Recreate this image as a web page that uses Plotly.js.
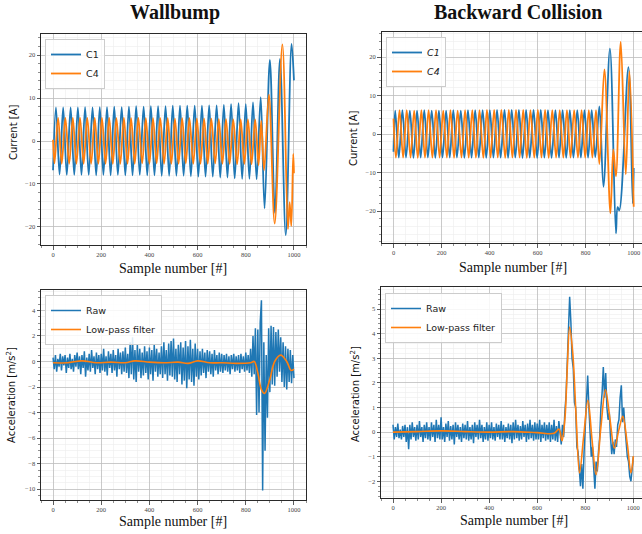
<!DOCTYPE html>
<html>
<head>
<meta charset="utf-8">
<script src="https://cdn.plot.ly/plotly-3.0.1.min.js"></script>
<style>
  html, body { margin: 0; padding: 0; background: #ffffff; }
  #chart { width: 642px; height: 534px; }
</style>
</head>
<body>
<div id="chart"></div>
<script>
// ---------- DATA ----------
// Wallbump, current: turning points of each phase (sample number, amps)
const wallC1X = [0,12,27,42,57,73,88,103,118,133,148,164,179,194,209,224,239,254,269,285,300,315,330,345,360,376,391,406,421,436,451,467,482,497,512,527,542,557,572,588,603,618,633,648,663,679,694,709,724,739,754,770,785,800,815,830,845,862,878,900,921,942,966,990,1000];
const wallC1Y = [-6.8,7.8,-7.8,7.8,-7.9,7.8,-7.9,7.8,-7.9,7.9,-7.9,7.8,-8.0,7.9,-7.9,7.9,-8.0,8.0,-7.9,7.9,-8.0,8.0,-8.0,8.1,-7.9,8.0,-8.0,8.1,-8.0,8.1,-8.1,8.1,-8.1,8.2,-8.1,8.2,-8.1,8.2,-8.2,8.2,-8.3,8.2,-8.3,8.3,-8.3,8.3,-8.5,8.4,-8.5,8.6,-8.7,8.8,-8.8,8.6,-8.8,9.0,-8.9,10.2,-15.7,18.9,-16.7,19.1,-21.9,22.6,14.1];
const wallC4X = [0,6,21,36,51,67,82,97,112,127,142,158,173,188,203,218,233,248,263,279,294,309,324,339,354,370,385,400,415,430,445,461,476,491,506,521,536,551,566,582,597,612,627,642,657,673,688,703,718,733,748,764,779,794,809,824,839,853,864,876,896,920,952,975,982,989,997,1000];
const wallC4Y = [0.3,-5.2,5.4,-5.3,5.4,-5.3,5.4,-5.3,5.4,-5.3,5.4,-5.3,5.4,-5.3,5.4,-5.3,5.4,-5.3,5.3,-5.3,5.4,-5.3,5.3,-5.3,5.4,-5.2,5.3,-5.3,5.3,-5.2,5.3,-5.3,5.3,-5.3,5.2,-5.3,5.3,-5.2,5.3,-5.3,5.2,-5.3,5.2,-5.3,5.2,-5.2,5.1,-5.3,5.1,-5.3,5.0,-5.4,5.0,-5.3,5.0,-5.4,5.0,-5.6,4.7,-6.8,10.8,-19.2,22.5,-20.5,-14.2,-19.8,-3.0,-7.5];

// Backward Collision, current
const backC1X = [0,7,22,37,52,68,83,98,113,128,143,159,174,189,204,219,234,249,264,280,295,310,325,340,355,371,386,401,416,431,446,462,477,492,507,522,537,552,567,583,598,613,628,643,658,674,689,704,719,734,749,765,780,795,810,825,840,857,874,901,926,933,940,978,996,1000];
const backC1Y = [-4.6,6.1,-6.1,6.2,-6.1,6.1,-6.2,6.1,-6.1,6.2,-6.1,6.1,-6.2,6.1,-6.1,6.1,-6.1,6.2,-6.1,6.1,-6.2,6.2,-6.1,6.2,-6.1,6.2,-6.2,6.2,-6.1,6.3,-6.1,6.3,-6.2,6.3,-6.1,6.3,-6.2,6.3,-6.1,6.3,-6.2,6.3,-6.1,6.2,-6.2,6.2,-6.1,6.2,-6.2,6.2,-6.1,6.2,-6.1,6.2,-6.1,6.2,-6.0,7.2,-13.7,22.2,-25.8,-19.0,-19.8,17.4,-18.0,-8.8];
const backC4X = [0,10,25,40,55,71,86,101,116,131,146,162,177,192,207,222,237,252,267,283,298,313,328,343,358,374,389,404,419,434,449,465,480,495,510,525,540,555,570,586,601,616,631,646,661,677,692,707,722,737,752,768,783,798,813,828,843,857,878,903,915,926,946,967,982,1000];
const backC4Y = [4.0,-6.1,6.2,-6.1,6.2,-6.1,6.1,-6.2,6.2,-6.1,6.2,-6.1,6.2,-6.1,6.1,-6.1,6.2,-6.2,6.1,-6.1,6.2,-6.1,6.2,-6.1,6.2,-6.2,6.3,-6.1,6.3,-6.1,6.3,-6.2,6.3,-6.1,6.3,-6.1,6.3,-6.2,6.2,-6.1,6.3,-6.1,6.3,-6.2,6.2,-6.1,6.2,-6.1,6.2,-6.1,6.2,-6.1,6.2,-6.1,6.2,-6.1,6.2,-7.8,16.8,-20.6,-4.0,-11.0,23.9,-10.5,16.3,-18.9];

// Acceleration, raw samples every 5 samples (0..1000)
const sampleStep = 5;
const wallRaw = [
 0.3,-0.6,0.5,-0.8,0.2,-0.4,0.6,-0.7,0.4,-0.3,
 0.5,-0.9,0.3,-0.5,0.6,-0.6,0.2,-0.8,0.5,-0.4,
 0.7,-0.6,0.4,-1.0,0.5,-0.5,0.8,-1.2,0.3,-0.7,
 0.6,-0.8,0.9,-0.5,0.4,-1.0,0.7,-0.6,0.5,-0.9,
 0.6,-0.7,1.0,-0.8,0.4,-1.1,0.8,-0.5,0.6,-0.9,
 0.9,-0.7,0.5,-1.2,1.0,-0.6,0.7,-1.0,0.8,-0.8,
 1.1,-0.9,0.6,-1.3,1.5,-1.0,1.9,-1.4,0.9,-1.6,
 1.3,-0.8,1.0,-1.3,0.7,-1.1,1.2,-0.9,0.8,-1.4,
 1.1,-1.0,0.9,-1.5,1.3,-0.8,1.0,-1.2,0.7,-1.0,
 1.2,-1.3,1.5,-1.0,0.9,-1.5,1.4,-1.1,1.6,-1.2,
 1.8,-1.4,1.0,-1.6,1.3,-1.0,1.5,-1.8,1.1,-1.5,
 1.6,-2.1,1.2,-1.4,1.7,-1.6,1.0,-1.9,1.4,-1.2,
 1.0,-1.4,0.8,-1.1,1.0,-0.9,0.7,-1.3,0.9,-0.8,
 0.8,-1.0,0.6,-1.2,0.9,-0.7,0.5,-1.0,0.7,-0.8,
 0.6,-0.9,0.5,-0.7,0.6,-0.8,0.4,-1.0,0.5,-0.6,
 0.6,-0.8,0.4,-0.7,0.5,-0.9,0.6,-0.6,0.4,-0.8,
 0.7,-0.7,0.5,-0.9,1.0,-1.2,2.0,-1.0,2.6,-4.2,
 2.5,-4.0,3.1,4.8,-10.1,1.5,-7.0,0.5,-4.4,2.6,
 -2.4,2.8,-1.8,2.7,-1.9,2.3,-1.2,2.5,-0.8,1.9,
 -1.6,1.5,-2.0,1.2,-2.2,1.0,-1.6,0.9,-1.7,0.5,
 -1.3
];
const backRaw = [
 0.3,-0.3,0.2,-0.2,0.35,-0.25,0.1,-0.3,0.25,-0.2,
 0.3,-0.4,0.2,-0.7,0.3,-0.3,0.4,-0.2,0.2,-0.35,
 0.3,-0.3,0.45,-0.2,0.2,-0.4,0.3,-0.25,0.4,-0.3,
 0.2,-0.35,0.4,-0.2,0.3,-0.4,0.5,-0.25,0.3,-0.3,
 0.6,-0.3,0.2,-0.4,0.35,-0.2,0.45,-0.35,0.25,-0.3,
 0.3,-0.5,0.4,-0.2,0.3,-0.3,0.2,-0.4,0.35,-0.25,
 0.3,-0.3,0.45,-0.35,0.2,-0.3,0.3,-0.45,0.4,-0.2,
 0.3,-0.3,0.5,-0.25,0.3,-0.4,0.2,-0.3,0.4,-0.35,
 0.3,-0.25,0.4,-0.3,0.2,-0.35,0.35,-0.2,0.3,-0.3,
 0.45,-0.3,0.3,-0.4,0.2,-0.25,0.35,-0.3,0.3,-0.45,
 0.4,-0.3,0.5,-0.25,0.3,-0.35,0.25,-0.3,0.45,-0.2,
 0.3,-0.4,0.35,-0.3,0.5,-0.25,0.3,-0.35,0.4,-0.3,
 0.35,-0.3,0.5,-0.4,0.3,-0.25,0.4,-0.35,0.3,-0.3,
 0.4,-0.4,0.3,-0.3,0.5,-0.35,0.25,-0.4,0.45,-0.2,
 -0.5,0.3,-0.2,0.8,1.5,2.8,4.0,5.5,4.5,3.0,
 2.6,1.2,1.0,-0.6,-0.8,-1.4,-2.2,-1.3,-2.3,-0.8,
 0.2,1.2,2.3,1.0,0.2,-1.0,-0.6,-1.8,-2.3,-1.2,
 -1.6,-0.8,-0.2,1.0,1.6,2.65,1.4,2.4,1.0,0.5,
 0.8,-0.2,-0.9,-0.4,-0.9,-0.3,-0.6,0.3,0.5,1.4,
 1.9,0.4,1.0,0.2,-0.5,-1.0,-1.2,-1.8,-2.0,-1.4,
 -1.0
];
// Low-pass filtered acceleration (turning points)
const wallLpX = [0,60,120,180,240,300,340,400,460,520,560,600,650,700,760,820,835,850,865,878,900,920,945,970,988,1000];
const wallLpY = [-0.1,-0.1,0.05,-0.1,-0.05,-0.1,0.05,-0.05,-0.1,-0.05,-0.15,0.05,-0.1,-0.1,-0.15,-0.1,0.0,-0.9,-2.2,-2.5,-1.4,0.0,0.5,0.0,-0.7,-0.6];
const backLpX = [0,100,200,300,400,500,600,670,690,703,715,725,735,748,762,776,793,811,828,845,865,884,903,921,940,956,975,990,1000];
const backLpY = [0,0.02,0.05,0.02,0.0,0.02,-0.02,-0.05,0.12,-0.35,0.5,2.6,4.27,3.2,0.6,-1.66,-0.2,1.29,-0.3,-1.73,0.2,1.72,0.5,-0.65,0.1,0.64,-0.5,-1.66,-0.98];

const panelTitles = ["Wallbump", "Backward Collision"];
const xLabel = "Sample number [#]";
const yLabelCurrent = "Current [A]";
const yLabelAccel = "Acceleration [m/s<sup>2</sup>]";

// ---------- STYLE ----------
const BLUE = "#1f77b4", ORANGE = "#ff7f0e";
const W = 642, H = 534;
const px = v => v / W;          // horizontal pixel -> paper
const py = v => 1 - v / H;      // vertical pixel (from top) -> paper

function axis(domain, range, dtick, minorDtick, mirror, anchor) {
  return {
    domain: domain, range: range, anchor: anchor,
    tick0: 0, dtick: dtick,
    ticks: "outside", ticklen: 3.5, tickwidth: 0.8, tickcolor: "#333",
    showline: true, linecolor: "#2a2a2a", linewidth: 1, mirror: mirror,
    showgrid: true, gridcolor: "#bdbdbd", gridwidth: 0.8,
    zeroline: false, fixedrange: true,
    tickfont: { family: "Liberation Serif", size: 6.5, color: "#444" },
    minor: { dtick: minorDtick, tick0: 0, ticks: "outside", ticklen: 2, tickwidth: 0.6,
             tickcolor: "#444", showgrid: true, gridcolor: "#ececec", gridwidth: 0.6 }
  };
}

const traces = [
  { x: wallC1X, y: wallC1Y, xaxis: "x", yaxis: "y", name: "C1", legend: "legend",
    mode: "lines", line: { color: BLUE, width: 1.8, shape: "spline" } },
  { x: wallC4X, y: wallC4Y, xaxis: "x", yaxis: "y", name: "C4", legend: "legend",
    mode: "lines", line: { color: ORANGE, width: 1.8, shape: "spline" } },
  { x: backC1X, y: backC1Y, xaxis: "x2", yaxis: "y2", name: "<i>C1</i>", legend: "legend2",
    mode: "lines", line: { color: BLUE, width: 1.8, shape: "spline" } },
  { x: backC4X, y: backC4Y, xaxis: "x2", yaxis: "y2", name: "<i>C4</i>", legend: "legend2",
    mode: "lines", line: { color: ORANGE, width: 1.8, shape: "spline" } },
  { y: wallRaw, x0: 0, dx: sampleStep, xaxis: "x3", yaxis: "y3", name: "Raw", legend: "legend3",
    mode: "lines", line: { color: BLUE, width: 1.5 } },
  { x: wallLpX, y: wallLpY, xaxis: "x3", yaxis: "y3", name: "Low-pass filter", legend: "legend3",
    mode: "lines", line: { color: ORANGE, width: 1.6, shape: "spline" } },
  { y: backRaw, x0: 0, dx: sampleStep, xaxis: "x4", yaxis: "y4", name: "Raw", legend: "legend4",
    mode: "lines", line: { color: BLUE, width: 1.5 } },
  { x: backLpX, y: backLpY, xaxis: "x4", yaxis: "y4", name: "Low-pass filter", legend: "legend4",
    mode: "lines", line: { color: ORANGE, width: 1.6, shape: "spline" } }
];

function legendAt(xp, yp) {
  return { x: px(xp), y: py(yp), xanchor: "left", yanchor: "top",
           bgcolor: "rgba(255,255,255,0.85)", bordercolor: "#cccccc", borderwidth: 1,
           font: { family: "DejaVu Sans", size: 9.5, color: "#222" },
           itemwidth: 30, tracegroupgap: 0 };
}

function ann(text, xp, yp, size, family, bold, angle) {
  return { text: bold ? "<b>" + text + "</b>" : text, x: px(xp), y: py(yp),
           xref: "paper", yref: "paper", xanchor: "center", yanchor: "middle",
           showarrow: false, textangle: angle || 0,
           font: { family: family, size: size, color: "#111" } };
}

const layout = {
  width: W, height: H,
  margin: { l: 0, r: 0, t: 0, b: 0 },
  paper_bgcolor: "#ffffff", plot_bgcolor: "#ffffff",
  showlegend: true,
  xaxis:  axis([px(41), px(306)], [-50, 1050], 200, 50, true, "y"),
  yaxis:  axis([py(245), py(34)], [-24.2, 24.9], 10, 2, true, "x"),
  xaxis2: axis([px(381.5), 1], [-50, 1034.5], 200, 50, true, "y2"),
  yaxis2: axis([py(243), py(32)], [-28.3, 26.5], 10, 2, false, "x2"),
  xaxis3: axis([px(41), px(306)], [-50, 1050], 200, 50, true, "y3"),
  yaxis3: axis([py(500), py(290)], [-10.85, 5.6], 2, 0.5, true, "x3"),
  xaxis4: axis([px(381), 1], [-50, 1036], 200, 50, true, "y4"),
  yaxis4: axis([py(498), py(287)], [-2.68, 5.9], 1, 0.2, false, "x4"),
  legend:  legendAt(45, 39),
  legend2: legendAt(386, 37),
  legend3: legendAt(45, 295),
  legend4: legendAt(385, 293),
  annotations: [
    ann(panelTitles[0], 175, 12, 20, "Liberation Serif", true),
    ann(panelTitles[1], 517.5, 12, 20, "Liberation Serif", true),
    ann(xLabel, 173, 268, 14, "Liberation Serif", false),
    ann(xLabel, 513, 267, 14, "Liberation Serif", false),
    ann(xLabel, 173, 521, 14, "Liberation Serif", false),
    ann(xLabel, 513.5, 520, 14, "Liberation Serif", false),
    ann(yLabelCurrent, 13, 133, 10, "DejaVu Sans", false, -90),
    ann(yLabelCurrent, 353, 139, 10, "DejaVu Sans", false, -90),
    ann(yLabelAccel, 11, 395, 10, "DejaVu Sans", false, -90),
    ann(yLabelAccel, 354.5, 394.6, 10, "DejaVu Sans", false, -90)
  ]
};

Plotly.newPlot("chart", traces, layout, { staticPlot: true, displayModeBar: false });
</script>
</body>
</html>
